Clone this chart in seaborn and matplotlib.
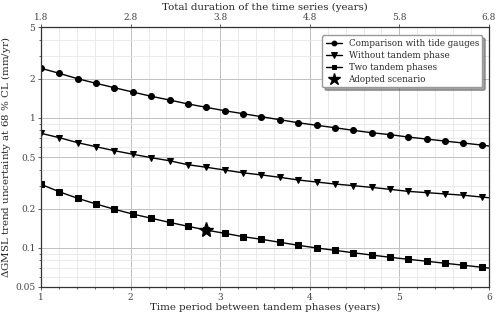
import numpy as np
import pandas as pd
import seaborn as sns
import matplotlib.pyplot as plt
from matplotlib.ticker import FixedLocator, MultipleLocator, NullFormatter, LogLocator

sns.set_style("whitegrid")
plt.rcParams["font.family"] = ["DejaVu Serif"]
plt.rcParams["mathtext.fontset"] = "dejavuserif"

# time period between tandem phases (years), marker positions
period = [1.0, 1.205, 1.41, 1.615, 1.82, 2.025, 2.23, 2.435, 2.64, 2.845,
          3.05, 3.255, 3.46, 3.665, 3.87, 4.075, 4.28, 4.485, 4.69, 4.895,
          5.1, 5.305, 5.51, 5.715, 5.92, 6.0]
tide_gauges = [2.41, 2.20, 2.00, 1.845, 1.706, 1.58, 1.466, 1.372, 1.28, 1.205,
               1.135, 1.077, 1.021, 0.968, 0.918, 0.877, 0.84, 0.802, 0.769, 0.743,
               0.712, 0.687, 0.663, 0.64, 0.618, 0.608]
no_tandem = [0.761, 0.704, 0.644, 0.600, 0.559, 0.525, 0.494, 0.468, 0.436, 0.417,
             0.397, 0.378, 0.364, 0.349, 0.333, 0.321, 0.310, 0.301, 0.292, 0.282,
             0.272, 0.266, 0.260, 0.254, 0.246, 0.243]
two_tandem = [0.308, 0.270, 0.2405, 0.2175, 0.198, 0.182, 0.169, 0.157, 0.1466, 0.137,
              0.1294, 0.1219, 0.1164, 0.1104, 0.1047, 0.0998, 0.0958, 0.0917, 0.0881, 0.0846,
              0.0817, 0.0789, 0.0761, 0.0735, 0.0709, 0.0699]
adopted_x = [2.845]
adopted_y = [0.137]

yticks = [0.05, 0.1, 0.2, 0.5, 1, 2, 5]
ytick_labels = ["0.05", "0.1", "0.2", "0.5", "1", "2", "5"]
top_ticks = [1.8, 2.8, 3.8, 4.8, 5.8, 6.8]

df = pd.DataFrame({"period": period, "tide": tide_gauges,
                   "none": no_tandem, "two": two_tandem})

fig = plt.figure(figsize=(5, 3.18), dpi=100)
ax = fig.add_axes([0.082, 0.0975, 0.896, 0.8175])

n_mark = len(period) - 1
for col, mk, ms, lab in [("tide", "o", 4.3, "Comparison with tide gauges"),
                         ("none", "v", 4.8, "Without tandem phase"),
                         ("two", "s", 4.3, "Two tandem phases")]:
    sns.lineplot(data=df, x="period", y=col, ax=ax, color="black", lw=1.0,
                 marker=mk, markersize=ms, markevery=slice(0, n_mark),
                 markeredgecolor="black", label=lab)
ax.plot(adopted_x, adopted_y, ls="none", marker="*", color="black",
        markersize=11, label="Adopted scenario", zorder=5)

ax.set_yscale("log")
ax.set_xlim(1, 6)
ax.set_ylim(0.05, 5)
ax.set_yticks(yticks)
ax.set_yticklabels(ytick_labels)
ax.yaxis.set_minor_locator(LogLocator(base=10, subs=np.arange(2, 10)))
ax.yaxis.set_minor_formatter(NullFormatter())
ax.xaxis.set_major_locator(MultipleLocator(1))
ax.xaxis.set_minor_locator(MultipleLocator(0.2))
ax.grid(True, which="major", color="#c0c0c0", lw=0.7)
ax.grid(True, which="minor", color="#e6e6e6", lw=0.6)
ax.tick_params(axis="both", which="major", labelsize=6.5, colors="#444444",
               length=2.5, width=0.6, direction="out", left=True, bottom=True, pad=1.5)
ax.tick_params(axis="both", which="minor", length=1.5, width=0.5, left=True, bottom=True)
for s in ax.spines.values():
    s.set_color("#333333")
    s.set_linewidth(0.9)

ax.set_xlabel("Time period between tandem phases (years)", fontsize=7.4, labelpad=1)
ax.set_ylabel(r"$\Delta$GMSL trend uncertainty at 68 % CL (mm/yr)", fontsize=7.4)
ax.yaxis.set_label_coords(-0.062, 0.5)

sec = ax.secondary_xaxis("top", functions=(lambda x: x + 0.8, lambda x: x - 0.8))
sec.xaxis.set_major_locator(FixedLocator(top_ticks))
sec.tick_params(labelsize=6.5, colors="#444444", length=2.5, width=0.6, pad=1)
sec.set_xlabel("Total duration of the time series (years)", fontsize=7.4, labelpad=2)

leg = ax.legend(loc="upper right", fontsize=6.3, shadow=True, frameon=True,
                fancybox=True, markerscale=0.8, handlelength=1.8,
                borderpad=0.4, labelspacing=0.35, framealpha=1,
                bbox_to_anchor=(0.995, 0.985))
leg.get_frame().set_edgecolor("#999999")

fig.savefig("out.png", dpi=100)
